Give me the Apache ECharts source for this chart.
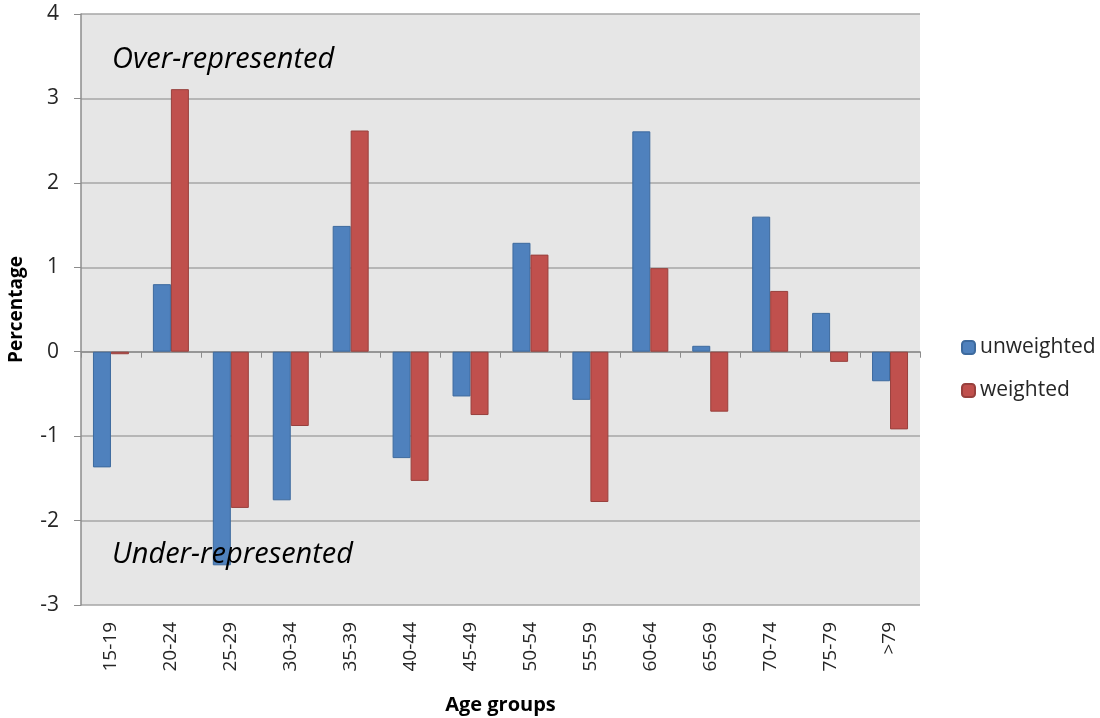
<!DOCTYPE html>
<html><head><meta charset="utf-8">
<script src="https://cdn.jsdelivr.net/npm/echarts@6/dist/echarts.min.js"></script>
<style>html,body{margin:0;padding:0;background:#fff}#c{width:1100px;height:718px}</style>
</head><body><div id="c"></div>
<script>
const categories = ['15-19','20-24','25-29','30-34','35-39','40-44','45-49','50-54','55-59','60-64','65-69','70-74','75-79','>79'];
const unweighted = [-1.37, 0.80, -2.53, -1.76, 1.49, -1.26, -0.53, 1.29, -0.57, 2.61, 0.07, 1.60, 0.46, -0.35];
const weighted   = [-0.03, 3.11, -1.85, -0.88, 2.62, -1.53, -0.75, 1.15, -1.78, 0.99, -0.71, 0.72, -0.12, -0.92];
const seriesNames = ['unweighted', 'weighted'];
const yTicks = {min: -3, max: 4, interval: 1};
const annotations = ['Over-represented', 'Under-represented'];

const FONT = 'Open Sans';
const chart = echarts.init(document.getElementById('c'), null, {renderer: 'canvas'});
chart.setOption({
  animation: false,
  textStyle: {fontFamily: FONT},
  grid: {left: 81, right: 180, top: 14, bottom: 113, show: true, backgroundColor: '#E6E6E6', borderWidth: 0, containLabel: false, outerBoundsMode: 'none'},
  legend: {
    orient: 'vertical', left: 956, top: 332, itemWidth: 13, itemHeight: 13, itemGap: 22,
    data: seriesNames,
    textStyle: {fontSize: 21, color: '#262626', fontFamily: FONT}
  },
  xAxis: [{
    type: 'category', data: categories, position: 'bottom',
    axisLine: {onZero: true, lineStyle: {color: '#8C8C8C', width: 1.5}},
    axisTick: {show: true, length: 6, lineStyle: {color: '#8C8C8C'}},
    axisLabel: {show: false}
  }, {
    type: 'category', data: categories, position: 'bottom',
    axisLine: {show: false, onZero: false}, axisTick: {show: false},
    axisLabel: {rotate: 90, margin: 17, fontSize: 19, color: '#262626', fontFamily: FONT},
    name: 'Age groups', nameLocation: 'middle', nameGap: 90,
    nameTextStyle: {fontSize: 20, fontWeight: 'bold', color: '#000', fontFamily: FONT}
  }],
  yAxis: {
    type: 'value', min: yTicks.min, max: yTicks.max, interval: yTicks.interval,
    axisLine: {show: true, lineStyle: {color: '#8C8C8C', width: 1.5}},
    axisTick: {show: true, length: 7, lineStyle: {color: '#8C8C8C'}},
    axisLabel: {fontSize: 21, color: '#262626', margin: 22, fontFamily: FONT},
    splitLine: {lineStyle: {color: '#A6A6A6', width: 1.5}},
    name: 'Percentage', nameLocation: 'middle', nameGap: 55,
    nameTextStyle: {fontSize: 19, fontWeight: 'bold', color: '#000', fontFamily: FONT}
  },
  series: [{
    name: seriesNames[0], type: 'bar', data: unweighted, xAxisIndex: 0,
    barWidth: 18, barGap: '0%',
    itemStyle: {color: '#4F81BD', borderColor: '#3D6A9E', borderWidth: 1}
  }, {
    name: seriesNames[1], type: 'bar', data: weighted, xAxisIndex: 0,
    barWidth: 18, barGap: '0%',
    itemStyle: {color: '#C0504D', borderColor: '#98403D', borderWidth: 1}
  }],
  graphic: [
    {type: 'text', left: 112, top: 45, z: 100, style: {text: annotations[0], fontSize: 29, fontStyle: 'italic', fontFamily: FONT, fill: '#000'}},
    {type: 'text', left: 112, top: 540, z: 100, style: {text: annotations[1], fontSize: 29, fontStyle: 'italic', fontFamily: FONT, fill: '#000'}}
  ]
});
</script></body></html>
